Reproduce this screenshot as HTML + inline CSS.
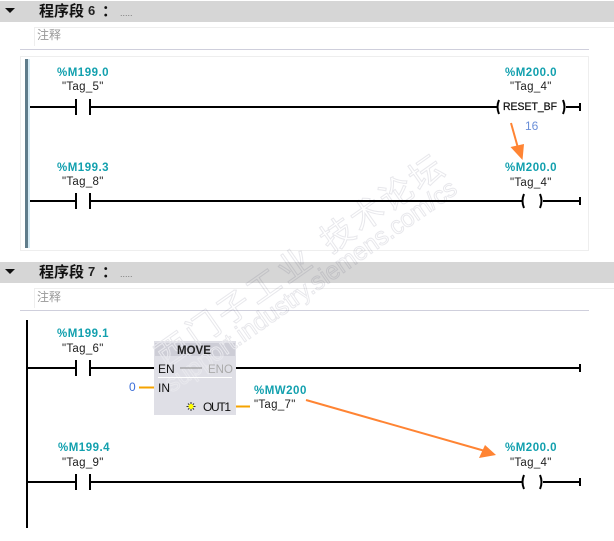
<!DOCTYPE html>
<html><head><meta charset="utf-8"><style>
html,body{margin:0;padding:0;background:#fff;width:614px;height:541px;overflow:hidden}
svg{display:block}
text{font-family:"Liberation Sans","Noto Sans CJK SC",sans-serif}
.a{font-size:11.5px;font-weight:bold;fill:#12a0ae;letter-spacing:.5px}
.t{font-size:11.5px;fill:#222;letter-spacing:.3px}
.h{font-size:15px;font-weight:bold;fill:#111}
.c{font-size:12px;fill:#999}
.b{font-size:12px;fill:#111}
.w{fill:none;stroke:#e8e8ec;stroke-width:1;mix-blend-mode:multiply}
.v{fill:none;stroke:#e8e8ed;stroke-width:1}
</style></head><body>
<svg width="614" height="541" viewBox="0 0 614 541" xmlns="http://www.w3.org/2000/svg">
<defs><clipPath id="bx"><rect x="154" y="341" width="82" height="74"/></clipPath></defs>
<rect x="0" y="1" width="614" height="21" fill="#d6d6d6"/>
<path d="M5 8H15L10 13Z" fill="#111"/>
<text class="h" x="39" y="16">程序段</text><text x="88" y="15" font-size="13" font-weight="bold" fill="#222">6</text><text class="h" x="102" y="16">：</text>
<text x="120" y="16" font-size="9" fill="#777">.....</text>
<path d="M34.500 46V27.500H614" fill="none" stroke="#eee"/>
<text class="c" x="37" y="39">注释</text>
<path d="M20 49.500H589" stroke="#cfcfdc"/>
<rect x="20.500" y="56.500" width="568" height="194" fill="none" stroke="#eee"/>
<rect x="25" y="59" width="3" height="189" fill="#607d8b"/>
<rect x="28" y="59" width="2" height="189" fill="#d6ecf6"/>

<rect x="0" y="262" width="614" height="21" fill="#d6d6d6"/>
<path d="M5 269H15L10 274Z" fill="#111"/>
<text class="h" x="39" y="277">程序段</text><text x="88" y="276" font-size="13" font-weight="bold" fill="#222">7</text><text class="h" x="102" y="277">：</text>
<text x="120" y="277" font-size="9" fill="#777">.....</text>
<path d="M34.500 308V288.500H614" fill="none" stroke="#eee"/>
<text class="c" x="37" y="301">注释</text>
<path d="M20 310.500H589" stroke="#cfcfdc"/>

<g transform="rotate(-35 166 369)">
<text class="w" x="166" y="369" font-size="33" letter-spacing="4">西门子工业</text>
<text class="w" x="367" y="369" font-size="33" letter-spacing="3">技术论坛</text>
</g>
<g transform="rotate(-35 172 393)">
<text class="w" x="172" y="393" font-size="25" textLength="350" lengthAdjust="spacingAndGlyphs">support.industry.siemens.com/cs</text>
</g>

<g stroke="#000" stroke-width="2" fill="none">
<path d="M30 107H76M76 99V115M90 99V115M90 107H497"/>
<path d="M566 107H580M580 103V111"/>
<path d="M30 201H76M76 193V209M90 193V209M90 201H522"/>
<path d="M543 201H580M580 197V205"/>
<path d="M27 320V528"/>
<path d="M27 368H76M76 360V376M90 360V376M90 368H154M236 368H580M580 364V372"/>
<path d="M27 482H76M76 474V490M90 474V490M90 482H522"/>
<path d="M543 482H580M580 478V486"/>
<path d="M499 100Q496 107 499 114M563 100Q566 107 563 114"/>
<path d="M524 194Q521 201 524 208M540 194Q543 201 540 208"/>
<path d="M524 475Q521 482 524 489M540 475Q543 482 540 489"/>
</g>

<rect x="154" y="341" width="82" height="74" fill="#dfdfe6"/>
<rect x="155" y="343" width="80" height="13" fill="#cdcdd6"/>
<g clip-path="url(#bx)">
<g transform="rotate(-35 166 369)"><text class="v" x="166" y="369" font-size="33" letter-spacing="4">西门子工业</text></g>
<g transform="rotate(-35 172 393)"><text class="v" x="172" y="393" font-size="25" textLength="350" lengthAdjust="spacingAndGlyphs">support.industry.siemens.com/cs</text></g>
</g>
<path d="M158 377.500H232" stroke="#fff"/>
<path d="M180 368H202" stroke="#888"/>
<path d="M139 387.500H154M236 406.500H250" stroke="#f5a300" stroke-width="2"/>
<text x="177" y="354" font-size="11.500" font-weight="bold" fill="#222">MOVE</text>
<text class="b" x="158" y="373">EN</text>
<text x="208" y="373" font-size="11.500" fill="#aaa">ENO</text>
<text class="b" x="158" y="392">IN</text>
<text class="b" x="203" y="411" textLength="28">OUT1</text>
<path d="M191 402V411M186.500 406.500H195.500M188 403.500L194 409.500M194 403.500L188 409.500" stroke="#333" stroke-width="1"/>
<circle cx="191" cy="406.500" r="2.500" fill="#ff0"/>
<text x="129" y="391" font-size="12" fill="#3c6fd8">0</text>

<text class="a" x="57" y="76">%M199.0</text><text class="t" x="62" y="90">"Tag_5"</text>
<text class="a" x="505" y="76">%M200.0</text><text class="t" x="510" y="90">"Tag_4"</text>
<text x="503" y="110" font-size="11" fill="#111" stroke="#111" stroke-width=".25" textLength="54" lengthAdjust="spacingAndGlyphs">RESET_BF</text>
<text x="525" y="130" font-size="12" fill="#6b8fd8">16</text>
<text class="a" x="57" y="171">%M199.3</text><text class="t" x="62" y="185">"Tag_8"</text>
<text class="a" x="505" y="171">%M200.0</text><text class="t" x="510" y="186">"Tag_4"</text>
<text class="a" x="57" y="337">%M199.1</text><text class="t" x="62" y="352">"Tag_6"</text>
<text class="a" x="254" y="394">%MW200</text><text class="t" x="254" y="408">"Tag_7"</text>
<text class="a" x="58" y="451">%M199.4</text><text class="t" x="62" y="466">"Tag_9"</text>
<text class="a" x="505" y="451">%M200.0</text><text class="t" x="510" y="466">"Tag_4"</text>

<path d="M511 123L518 148" stroke="#ff8433" stroke-width="2" fill="none"/>
<path d="M522.500 160L510.500 147L524 144Z" fill="#ff8433"/>
<path d="M306 400L485 451" stroke="#ff8433" stroke-width="2" fill="none"/>
<path d="M496 455L479 458L485 445Z" fill="#ff8433"/>
</svg>
</body></html>
